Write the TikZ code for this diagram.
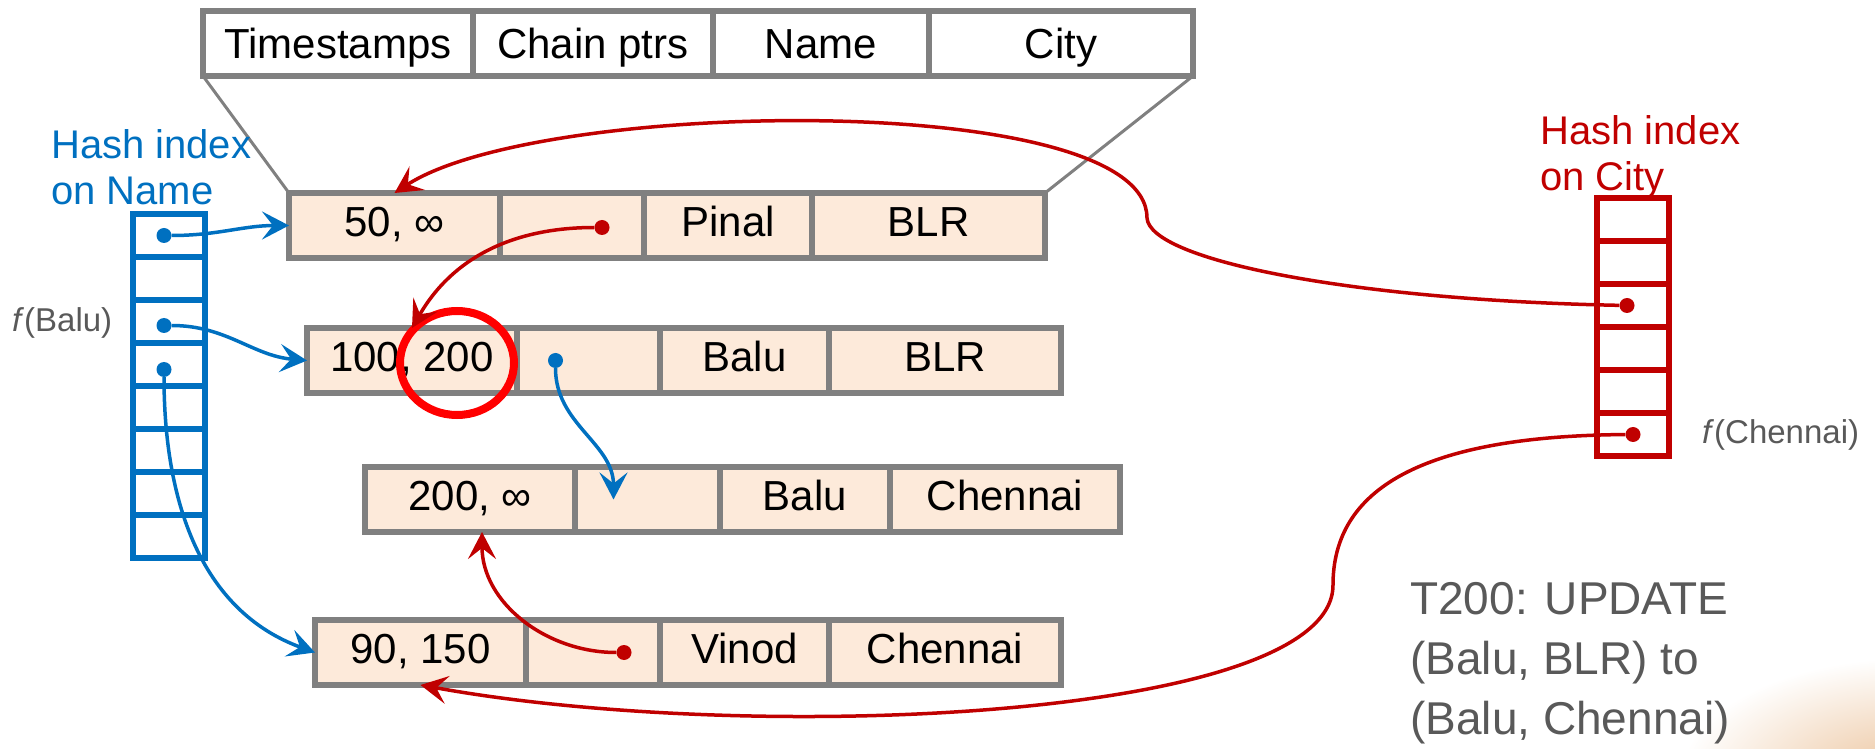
\documentclass[tikz,border=0pt]{standalone}
\usepackage{fontspec}
\setmainfont{Liberation Sans}
\usetikzlibrary{arrows.meta}
\definecolor{nameblue}{HTML}{0070C0}
\definecolor{cityred}{HTML}{C00000}
\definecolor{peach}{HTML}{FDEADA}
\definecolor{labelgray}{HTML}{595959}
\definecolor{glow}{HTML}{EBC29A}

\begin{document}
\begin{tikzpicture}[x=1pt, y=1pt,
   cell/.style={draw=gray, fill=peach, line width=5.5pt, anchor=north west, inner sep=0pt, outer sep=0pt,
     minimum height=65pt, text height=30pt, text depth=8pt, font=\fontsize{42}{50}\selectfont},
   head/.style={cell, fill=white, text depth=0pt},
   nslot/.style={draw=nameblue, line width=5.5pt, anchor=north west, inner sep=0pt, outer sep=0pt,
     minimum width=72pt, minimum height=43pt},
   cslot/.style={nslot, draw=cityred},
   bdot/.style={circle, fill=nameblue, inner sep=0pt, minimum size=15pt},
   rdot/.style={bdot, fill=cityred},
   blink/.style={draw=nameblue, line width=3.5pt, -{Stealth[length=27pt,width=28pt,inset=11pt]}},
   rlink/.style={blink, draw=cityred},
   hashlabel/.style={anchor=north west, align=left, inner sep=0pt, font=\fontsize{40}{46}\selectfont},
   note/.style={text=labelgray, anchor=west, inner sep=0pt, font=\fontsize{33}{40}\selectfont}]

\useasboundingbox (0,0) rectangle (1875,748);
\begin{scope}
  \clip (0,0) rectangle (1875,748);
  \shade[inner color=glow, outer color=white] (1910,-30) ellipse [x radius=230pt, y radius=120pt];
\end{scope}

% record layout
\node[head, minimum width=270pt] (hts) at (203,737) {Timestamps};
\node[head, minimum width=240pt] (hcp) at (hts.north east) {Chain ptrs};
\node[head, minimum width=216pt] (hname) at (hcp.north east) {Name};
\node[head, minimum width=264pt] (hcity) at (hname.north east) {City};

% versions
\node[cell, minimum width=211pt] (r1ts) at (289,555) {50, ∞};
\node[cell, minimum width=144pt] (r1cp) at (r1ts.north east) {};
\node[cell, minimum width=168pt] (r1name) at (r1cp.north east) {Pinal};
\node[cell, minimum width=233pt] (r1city) at (r1name.north east) {BLR};

\node[cell, minimum width=210pt] (r2ts) at (307,420) {100, 200};
\node[cell, minimum width=143pt] (r2cp) at (r2ts.north east) {};
\node[cell, minimum width=169pt] (r2name) at (r2cp.north east) {Balu};
\node[cell, minimum width=232pt] (r2city) at (r2name.north east) {BLR};

\node[cell, minimum width=210pt] (r3ts) at (365,281) {200, ∞};
\node[cell, minimum width=145pt] (r3cp) at (r3ts.north east) {};
\node[cell, minimum width=170pt] (r3name) at (r3cp.north east) {Balu};
\node[cell, minimum width=230pt] (r3city) at (r3name.north east) {Chennai};

\node[cell, minimum width=211pt] (r4ts) at (315,128) {90, 150};
\node[cell, minimum width=134pt] (r4cp) at (r4ts.north east) {};
\node[cell, minimum width=169pt] (r4name) at (r4cp.north east) {Vinod};
\node[cell, minimum width=232pt] (r4city) at (r4name.north east) {Chennai};

\draw[gray, line width=3pt] (hts.south west) -- (r1ts.north west);
\draw[gray, line width=3pt] (hcity.south east) -- (r1city.north east);

\draw[red, line width=8pt] (457,385) ellipse [x radius=57pt, y radius=52pt];

% hash tables
\foreach \i in {1,...,8}
  \node[nslot] (n\i) at (133,{534-43*(\i-1)}) {};
\foreach \i in {1,...,6}
  \node[cslot] (c\i) at (1597,{550-43*(\i-1)}) {};

\node[hashlabel, text=nameblue] (nlabel) at (51,619) {Hash index\\on Name};
\node[hashlabel, text=cityred] (clabel) at (1540,633) {Hash index\\on City};
\node[note] (fbalu) at (12,425) {\textit{f}(Balu)};
\node[note] (fchennai) at (1702,313) {\textit{f}(Chennai)};
\node[anchor=north west, align=left, inner sep=0pt, text=labelgray,
  font=\fontsize{46}{60}\selectfont] (update) at (1410,166) {T200: UPDATE\\(Balu, BLR) to\\(Balu, Chennai)};

% pointers
\node[bdot] (nd1) at ([xshift=-5pt]n1.center) {};
\node[bdot] (nd3) at ([xshift=-5pt,yshift=-4pt]n3.center) {};
\node[bdot] (nd4) at ([xshift=-5pt,yshift=-5pt]n4.center) {};
\node[bdot] (bd2) at ([xshift=-33pt]r2cp.center) {};
\node[rdot] (rd1) at ([xshift=30pt,yshift=-2pt]r1cp.center) {};
\node[rdot] (rd4) at ([xshift=31pt]r4cp.center) {};
\node[rdot] (cd3) at ([xshift=-6pt]c3.center) {};
\node[rdot] (cd6) at (c6.center) {};

\draw[blink] (nd1) to[out=0,in=180] (r1ts.west);
\draw[blink] (nd3) to[out=0,in=175] (r2ts.west);
\draw[blink] (nd4) to[out=-90,in=160] (r4ts.west);
\draw[blink] (bd2) to[out=-90,in=90] ([xshift=-34pt]r3cp.center);

\draw[rlink] (rd1) to[out=180,in=60] (r2ts.north);
\draw[rlink] (rd4) to[out=180,in=-90] ([xshift=12pt]r3ts.south);
\draw[rlink] (cd3) .. controls (1350,448) and (1150,488) .. (1147,530)
  .. controls (1147,658) and (540,650) .. (r1ts.north);
\draw[rlink] (cd6) .. controls (1420,312) and (1333,258) .. (1333,163)
  .. controls (1333,28) and (750,3) .. (r4ts.south);

\end{tikzpicture}
\end{document}
